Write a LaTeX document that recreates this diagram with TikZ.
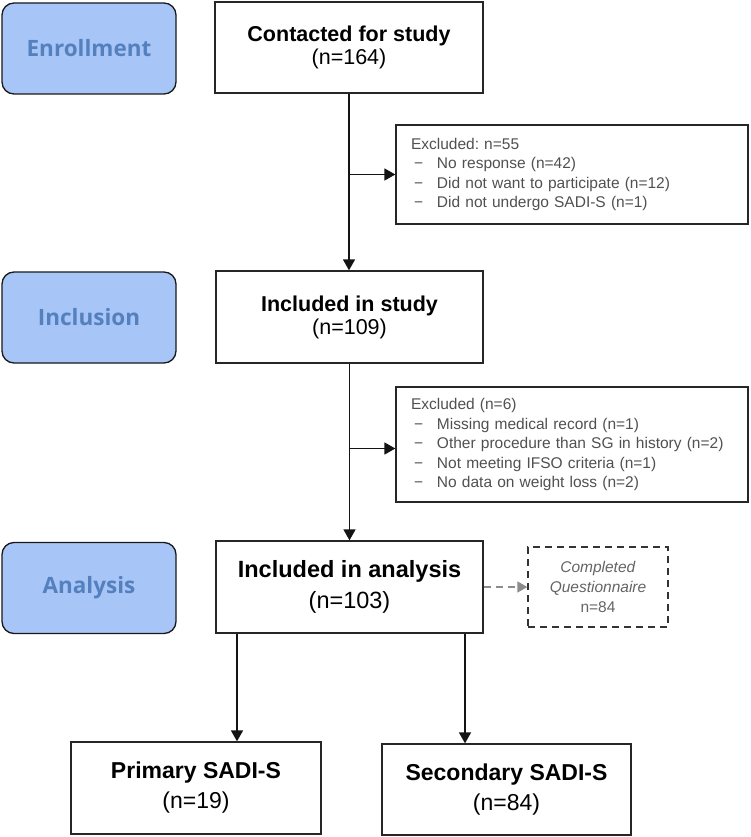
\documentclass[tikz,border=0pt]{standalone}
\usepackage{fontspec}
\setmainfont{Liberation Sans}
\newfontfamily\labelfont{Open Sans}
\usetikzlibrary{arrows.meta}
\definecolor{lblfill}{RGB}{168,197,248}
\definecolor{lbltext}{RGB}{84,129,190}
\definecolor{excltext}{RGB}{80,80,80}
\definecolor{dashgray}{RGB}{140,140,140}
\definecolor{qtext}{RGB}{100,100,100}
\newcommand{\exitem}[1]{\hspace*{3pt}\makebox[23pt][l]{−}#1}
\frenchspacing
\begin{document}
\begin{tikzpicture}[x=1pt,y=-1pt,
 phase/.style={draw=black!90, line width=1.3pt, fill=lblfill, rounded corners=12pt,
   minimum width=174pt, minimum height=91pt, inner sep=0pt, text=lbltext,
   font=\labelfont\bfseries\fontsize{22.5}{26}\selectfont},
 mainbox/.style={draw=black!85, line width=1.3pt, fill=white, inner sep=0pt, align=center},
 exclbox/.style={draw=black!85, line width=1.3pt, inner xsep=15pt, inner ysep=0pt,
   text width=322pt, align=left, text=excltext, font=\fontsize{15.5}{19.5}\selectfont},
 qbox/.style={draw=black!80, line width=1.3pt, dash pattern=on 7pt off 5pt, inner sep=0pt,
   minimum width=140pt, minimum height=80pt, align=center, text=qtext,
   font=\fontsize{15.5}{20}\selectfont},
 arrow/.style={draw=black!92, line width=1.6pt, -{Triangle[length=11pt,width=12pt]}},
 dasharrow/.style={draw=dashgray, line width=1.6pt, dash pattern=on 7pt off 5pt,
   -{Triangle[length=10pt,width=11pt]}}
]
\useasboundingbox (0,0) rectangle (751,837);

% phase labels
\node[phase] (enroll) at (89,48.5) {Enrollment};
\node[phase] (inclusion) at (89,317.5) {Inclusion};
\node[phase] (analysislbl) at (89,588) {Analysis};

% main boxes
\node[mainbox, minimum width=268pt, minimum height=91pt,
  font=\fontsize{21.5}{23}\selectfont] (contacted) at (349,47.5)
  {\textbf{Contacted for study}\\(n=164)};
\node[mainbox, minimum width=267pt, minimum height=92pt,
  font=\fontsize{21.5}{23}\selectfont] (included) at (349.5,317)
  {\textbf{Included in study}\\(n=109)};
\node[mainbox, minimum width=267pt, minimum height=92pt,
  font=\fontsize{23.5}{31}\selectfont] (analysis) at (349.5,587)
  {\textbf{Included in analysis}\\(n=103)};
\node[mainbox, minimum width=250pt, minimum height=92pt,
  font=\fontsize{23}{30}\selectfont] (primary) at (196,788)
  {\textbf{Primary SADI-S}\\(n=19)};
\node[mainbox, minimum width=249pt, minimum height=91pt,
  font=\fontsize{23}{30}\selectfont] (secondary) at (506.5,789.5)
  {\textbf{Secondary SADI-S}\\(n=84)};

% exclusion boxes
\node[exclbox, minimum height=99pt] (excl1) at (572,174.5)
  {Excluded: n=55\\
   \exitem{No response (n=42)}\\
   \exitem{Did not want to participate (n=12)}\\
   \exitem{Did not undergo SADI-S (n=1)}};
\node[exclbox, minimum height=115pt] (excl2) at (572,444.5)
  {Excluded (n=6)\\
   \exitem{Missing medical record (n=1)}\\
   \exitem{Other procedure than SG in history (n=2)}\\
   \exitem{Not meeting IFSO criteria (n=1)}\\
   \exitem{No data on weight loss (n=2)}};

% questionnaire
\node[qbox] (quest) at (598,587)
  {\textit{Completed}\\\textit{Questionnaire}\\n=84};

% connectors
\draw[arrow] (contacted.south) -- (included.north -| contacted.south);
\draw[arrow] (excl1.west -| contacted.south) -- (excl1.west);
\draw[arrow] (included.south) -- (analysis.north);
\draw[arrow] ([yshift=-4pt]excl2.west -| included.south) -- ([yshift=-4pt]excl2.west);
\draw[dasharrow] (analysis.east) -- (quest.west);
\draw[arrow] ([xshift=-112.5pt]analysis.south) -- ([xshift=-112.5pt]analysis.south |- primary.north);
\draw[arrow] ([xshift=115.5pt]analysis.south) -- ([xshift=115.5pt]analysis.south |- secondary.north);
\end{tikzpicture}
\end{document}
